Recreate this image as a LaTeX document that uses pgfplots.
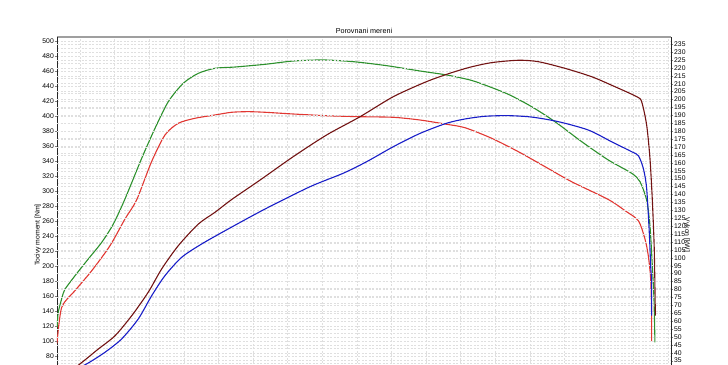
\documentclass[border=0pt]{standalone}
\usepackage{fontspec}
\setmainfont{Liberation Sans}
\usepackage{pgfplots}
\pgfplotsset{compat=1.18}
\definecolor{cgreen}{RGB}{45,145,45}
\definecolor{cred}{RGB}{225,55,50}
\definecolor{cbrown}{RGB}{115,20,20}
\definecolor{cblue}{RGB}{25,30,200}
\pgfplotsset{
  common/.style={
    at={(57pt,-433pt)}, anchor=south west, scale only axis,
    width=614pt, height=396pt,
    xmin=834, xmax=5270,
    xtick={1000,1250,...,5250}, xmajorticks=false,
    tick align=outside, major tick length=2pt, minor tick length=0pt,
    tick label style={font=\fontsize{6.8}{8}\selectfont},
    /pgf/number format/assume math mode=true,
    label style={font=\fontsize{6.8}{8}\selectfont},
    major grid style={gray!25, dash pattern=on 2pt off 1.5pt, line width=0.4pt},
    minor grid style={gray!25, dash pattern=on 2pt off 1.5pt, line width=0.4pt},
    every axis title shift=0pt,
    clip=true,
  },
  curve/.style={line width=1.1pt, no marks, smooth, tension=0.45},
}
\begin{document}
\begin{tikzpicture}[x=1pt,y=1pt]
\begin{scope}
\clip (0,0) rectangle (728,-364);
\begin{axis}[common,
  ymin=-22.65, ymax=505,
  axis y line*=left, axis x line*=top,
  x axis line style={gray!75, line width=1.6pt, -},
  y axis line style={black!85, line width=0.7pt, -},
  ytick distance=20, minor y tick num=1,
  xmajorgrids, ymajorgrids, yminorgrids,
  yticklabel style={inner sep=1pt},
  title={Porovnani mereni},
  title style={at={(axis description cs:0.5,1)}, anchor=south, yshift=3.5pt, inner sep=0pt, font=\fontsize{7.2}{8}\selectfont},
  ylabel={Tocivy moment [Nm]},
  ylabel style={at={(axis description cs:-0.031,0.5)}, anchor=center},
]
\addplot[cgreen, curve] coordinates {
(836,118.6) (843,138.2) (879,163.5) (892,169.2) (964,186.9) (1060,209.2)
(1157,231.4) (1241,255.8) (1325,289.1)
(1446,343.4) (1542,383.3) (1638,418.8) (1746,443.3) (1855,456.6) (1975,463.3)
(2120,465.0) (2337,468.6) (2541,473.0) (2758,474.4) (2975,472.1) (3216,466.8)
(3457,459.7) (3649,454.4) (3818,447.7) (3926,441.0) (4094,428.7) (4264,412.1)
(4432,392.1) (4625,365.5) (4817,341.1) (4986,323.4) (5046,312.2) (5094,287.8)
(5118,253.6) (5135,200.3) (5147,155.9) (5154,98.2)
};
\addplot[cred, curve] coordinates {
(834,96.9) (868,144.8) (964,167.0) (1085,193.6) (1217,226.9) (1325,262.5)
(1409,287.8) (1517,338.8) (1614,374.4) (1710,390.0) (1831,396.7) (1975,401.1)
(2096,404.7) (2216,405.5) (2337,404.7) (2541,402.4) (2782,400.1) (3023,398.8)
(3264,398.0) (3457,394.4) (3649,388.7) (3782,384.1) (3975,370.0) (4167,352.2)
(4360,332.2) (4552,312.2) (4817,288.5) (4938,273.6) (5034,260.2) (5082,235.8)
(5106,213.6) (5123,182.5) (5130,133.6) (5130,99.9)
};
\end{axis}
\begin{axis}[common,
  ymin=-10.74, ymax=239.5,
  axis y line*=right, axis x line=none,
  y axis line style={black!85, line width=0.7pt, -},
  ytick distance=5,
  ymajorgrids,
  yticklabel style={inner sep=1pt},
  ylabel={Vykon [kW]},
  ylabel style={at={(axis description cs:1.026,0.5)}, anchor=center, rotate=180},
]
\addplot[cbrown, curve] coordinates {
(870,24.6) (1000,32.9) (1132,42.3) (1253,50.7) (1374,63.4) (1493,78.2)
(1590,92.9) (1710,107.6) (1855,121.3) (1975,128.7) (2096,136.8) (2301,149.1)
(2541,163.9) (2782,177.6) (3023,189.1) (3264,201.8) (3504,211.3) (3673,216.6)
(3818,220.4) (3974,223.3) (4167,224.8) (4311,223.9) (4504,219.7) (4697,214.4)
(4865,208.1) (5022,201.8) (5058,198.6) (5094,183.9) (5118,162.8) (5135,136.5)
(5149,105.5) (5157,63.4)
};
\addplot[cblue, curve] coordinates {
(913,27.2) (1048,32.9) (1181,40.3) (1301,48.7) (1421,61.3) (1518,76.0)
(1614,88.7) (1735,100.3) (1879,108.7) (2071,118.2) (2337,130.8)
(2662,144.9) (2902,153.4) (3071,160.7) (3264,170.2) (3457,178.6) (3649,185.0)
(3782,187.7) (3926,189.4) (4094,189.8) (4264,188.9) (4456,186.0) (4673,180.7)
(4841,173.3) (4986,167.0) (5034,164.5) (5070,156.5) (5094,143.9) (5113,116.1)
(5123,95.0) (5130,84.5) (5130,63.4)
};
\end{axis}
\end{scope}
\pgfresetboundingbox
\path (0,0) rectangle (728,-364);
\end{tikzpicture}
\end{document}
